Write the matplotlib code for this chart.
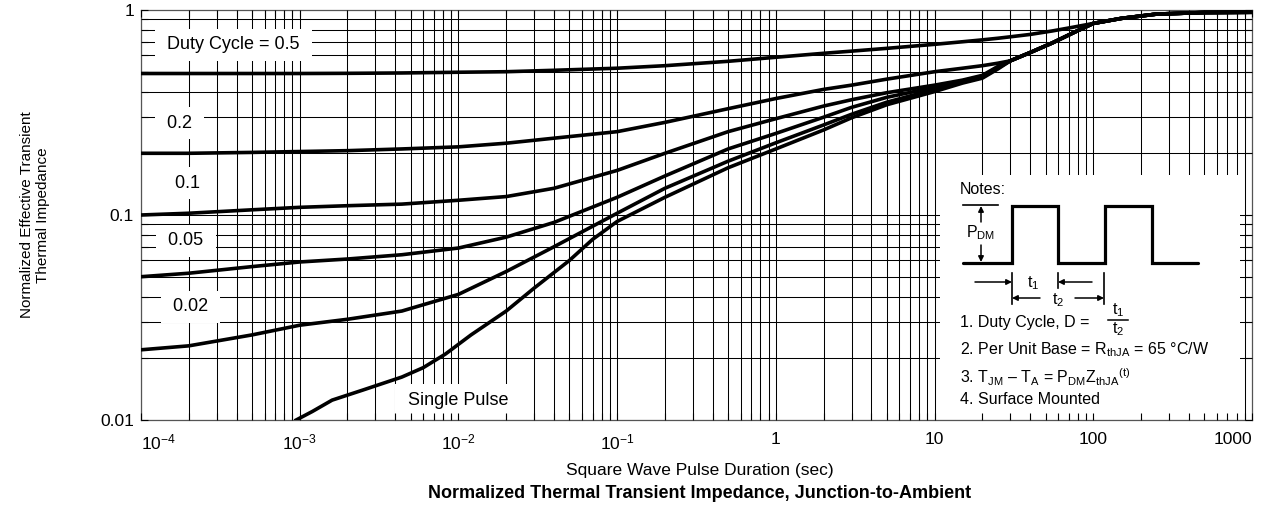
import matplotlib
matplotlib.use("Agg")
import matplotlib.pyplot as plt
from matplotlib.patches import Rectangle

plt.rcParams["font.family"] = ["Liberation Sans", "DejaVu Sans"]
plt.rcParams["mathtext.fontset"] = "custom"
plt.rcParams["mathtext.rm"] = "Liberation Sans"
plt.rcParams["mathtext.it"] = "Liberation Sans:italic"

# ---- data ----
x_duty = [1e-4, 2e-4, 5e-4, 1e-3, 2e-3, 4.4e-3, 1e-2, 2e-2, 4e-2, 0.1, 0.2, 0.5,
          1, 2, 3, 5, 10, 15, 20, 25, 30, 40, 55, 75, 100, 150, 250, 500, 1000]
z_tail = [0.565, 0.62, 0.69, 0.775, 0.86, 0.91, 0.955, 0.972, 0.975]  # merged part, x >= 30
z_d05 = [0.49, 0.49, 0.49, 0.49, 0.491, 0.493, 0.497, 0.50, 0.508, 0.52, 0.535, 0.562,
         0.588, 0.615, 0.63, 0.65, 0.68, 0.70, 0.715, 0.728, 0.74, 0.76, 0.79, 0.825,
         0.86, 0.91, 0.955, 0.972, 0.975]
z_d02 = [0.20, 0.20, 0.202, 0.204, 0.206, 0.21, 0.215, 0.224, 0.237, 0.255, 0.283, 0.33,
         0.37, 0.41, 0.43, 0.46, 0.50, 0.52, 0.535, 0.55] + z_tail
z_d01 = [0.10, 0.102, 0.106, 0.109, 0.111, 0.113, 0.118, 0.123, 0.135, 0.165, 0.20, 0.255,
         0.295, 0.34, 0.365, 0.395, 0.43, 0.455, 0.48, 0.53] + z_tail
z_d005 = [0.05, 0.052, 0.056, 0.059, 0.061, 0.064, 0.069, 0.078, 0.092, 0.122, 0.155, 0.21,
          0.25, 0.30, 0.335, 0.375, 0.42, 0.45, 0.475, 0.525] + z_tail
z_d002 = [0.022, 0.023, 0.026, 0.029, 0.031, 0.034, 0.041, 0.053, 0.070, 0.102, 0.135, 0.183,
          0.225, 0.275, 0.31, 0.355, 0.41, 0.445, 0.47, 0.52] + z_tail
x_single = [9.5e-4, 1.2e-3, 1.6e-3, 2.5e-3, 4.4e-3, 6e-3, 8.3e-3, 1.2e-2, 2e-2, 3e-2,
            5e-2, 7e-2, 0.1, 0.2, 0.5, 1, 2, 3, 5, 10, 15, 20, 25,
            30, 40, 55, 75, 100, 150, 250, 500, 1000]
z_single = [0.010, 0.011, 0.0125, 0.014, 0.0162, 0.018, 0.021, 0.026, 0.034, 0.044,
            0.060, 0.076, 0.093, 0.122, 0.17, 0.21, 0.26, 0.298, 0.345, 0.40, 0.44, 0.465,
            0.515] + z_tail

x_ticks = [1e-4, 1e-3, 1e-2, 1e-1, 1, 10, 100, 1000]
x_ticklabels = ["$10^{-4}$", "$10^{-3}$", "$10^{-2}$", "$10^{-1}$", "1", "10", "100", "1000"]
y_ticks = [0.01, 0.1, 1]
y_ticklabels = ["0.01", "0.1", "1"]

# curve labels: (text, x, y)
curve_labels = [
    ("Duty Cycle = 0.5", 1.36e-4, 0.675),
    ("0.2", 1.36e-4, 0.281),
    ("0.1", 1.53e-4, 0.143),
    ("0.05", 1.38e-4, 0.0747),
    ("0.02", 1.48e-4, 0.0356),
    ("Single Pulse", 4.45e-3, 0.0125),
]

W, H = 1271, 512
fig = plt.figure(figsize=(W / 100, H / 100), dpi=100)
ax = fig.add_axes([141 / W, 1 - 420 / H, (1252 - 141) / W, (420 - 10) / H])
ax.set_xscale("log")
ax.set_yscale("log")
ax.set_xlim(1e-4, 1e3)
ax.set_ylim(0.01, 1)
ax.set_axisbelow(False)

# overlay in image pixels for the notes drawing
ov = fig.add_axes([0, 0, 1, 1])
ov.set_xlim(0, W)
ov.set_ylim(H, 0)
ov.axis("off")
ov.patch.set_visible(False)

# grid lines at every 1..9 of each decade
for e in range(-4, 3):
    for m in range(1, 10):
        ax.axvline(m * 10.0 ** e, color="black", lw=0.75, zorder=1)
for e in range(-2, 0):
    for m in range(1, 10):
        ax.axhline(m * 10.0 ** e, color="black", lw=0.75, zorder=1)

for z in [z_d05, z_d02, z_d01, z_d005, z_d002]:
    ax.plot(x_duty, z, color="black", lw=2.6, solid_joinstyle="round", zorder=3)
ax.plot(x_single, z_single, color="black", lw=2.6, solid_joinstyle="round", zorder=3)

for txt, lx, ly in curve_labels:
    ax.text(lx, ly, " " + txt + " ", fontsize=13, ha="left", va="center", zorder=2,
            bbox=dict(boxstyle="square,pad=0.4", fc="white", ec="none"))

# white area behind the notes
ax.add_patch(Rectangle((940, 175), 300, 243, transform=ov.transData,
                       fc="white", ec="none", zorder=2))

ax.set_xticks(x_ticks)
ax.set_xticklabels(x_ticklabels)
ax.set_yticks(y_ticks)
ax.set_yticklabels(y_ticklabels)
ax.tick_params(which="both", direction="in", top=True, right=True,
               color="black", labelsize=12.5, length=5, width=0.8)
ax.tick_params(axis="x", pad=9)
ax.tick_params(axis="y", pad=5)
labs = ax.get_xticklabels()
labs[0].set_ha("left")
labs[-1].set_ha("right")
for s in ax.spines.values():
    s.set_color("#555555")
    s.set_linewidth(0.9)

# ---- notes drawing ----
k = dict(color="black")
ov.plot([963, 1012, 1012, 1058, 1058, 1105, 1105, 1152, 1152, 1198],
        [263, 263, 206, 206, 263, 263, 206, 206, 263, 263],
        lw=2.3, solid_capstyle="round", solid_joinstyle="miter", **k)
ov.plot([963, 998], [205, 205], lw=1.2, **k)
arr = dict(arrowstyle="-|>", color="black", lw=1.1, mutation_scale=8, shrinkA=0, shrinkB=0)
ov.annotate("", xy=(981, 206), xytext=(981, 222), arrowprops=arr)
ov.annotate("", xy=(981, 262), xytext=(981, 245), arrowprops=arr)
ov.text(981, 233, "P$_{\\rm DM}$", fontsize=11.5, ha="center", va="center")

ov.plot([1012, 1012], [273, 304], lw=1.2, **k)
ov.plot([1058, 1058], [273, 288], lw=1.2, **k)
ov.plot([1104, 1104], [273, 304], lw=1.2, **k)
ov.annotate("", xy=(1012, 282), xytext=(975, 282), arrowprops=arr)
ov.annotate("", xy=(1058, 282), xytext=(1092, 282), arrowprops=arr)
ov.annotate("", xy=(1012, 298), xytext=(1040, 298), arrowprops=arr)
ov.annotate("", xy=(1104, 298), xytext=(1075, 298), arrowprops=arr)
ov.text(1033, 283, "t$_1$", fontsize=11.5, ha="center", va="center")
ov.text(1058, 300, "t$_2$", fontsize=11.5, ha="center", va="center")

nfs = 11.5
ov.text(960, 190, "Notes:", fontsize=nfs, ha="left", va="center")
ov.text(960, 322, "1. Duty Cycle, D =", fontsize=nfs, ha="left", va="center")
ov.text(1118, 310, "t$_1$", fontsize=nfs, ha="center", va="center")
ov.plot([1108, 1128], [320, 320], lw=1.1, **k)
ov.text(1118, 329, "t$_2$", fontsize=nfs, ha="center", va="center")
ov.text(960, 350, "2. Per Unit Base = R$_{\\rm thJA}$ = 65 \u00b0C/W",
        fontsize=nfs, ha="left", va="center")
ov.text(960, 377, "3. T$_{\\rm JM}$ \u2013 T$_{\\rm A}$ = P$_{\\rm DM}$Z$_{\\rm thJA}$$^{\\rm (t)}$",
        fontsize=nfs, ha="left", va="center")
ov.text(960, 400, "4. Surface Mounted", fontsize=nfs, ha="left", va="center")

# ---- axis titles ----
fig.text(35 / W, 1 - 215 / H, "Normalized Effective Transient\nThermal Impedance",
         rotation=90, ha="center", va="center", fontsize=11, linespacing=1.2)
fig.text(700 / W, 1 - 470 / H, "Square Wave Pulse Duration (sec)",
         ha="center", va="center", fontsize=12.5)
fig.text(700 / W, 1 - 494 / H, "Normalized Thermal Transient Impedance, Junction-to-Ambient",
         ha="center", va="center", fontsize=13, fontweight="bold")

fig.savefig("out.png", dpi=100)
